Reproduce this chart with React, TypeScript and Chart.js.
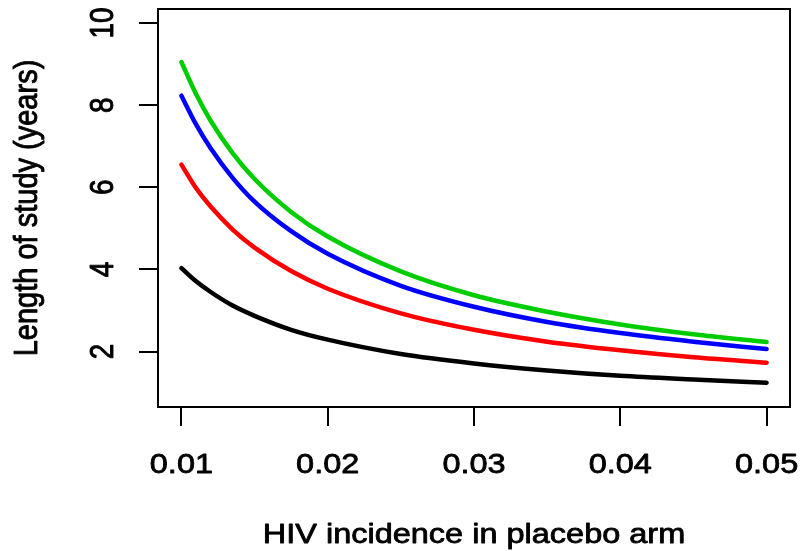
import React, { useEffect, useRef } from "react";
import { Chart, registerables } from "chart.js";

Chart.register(...registerables);

// HIV incidence in placebo arm (x values where the curves were read)
const incidence = [0.01, 0.011, 0.012, 0.0135, 0.015, 0.0175, 0.02, 0.025, 0.03, 0.035, 0.04, 0.045, 0.05];

// Length of study (years)
const blackSeries = [4.03, 3.71, 3.45, 3.12, 2.87, 2.53, 2.29, 1.94, 1.71, 1.54, 1.41, 1.32, 1.24];
const redSeries = [6.55, 5.98, 5.53, 4.97, 4.53, 3.96, 3.53, 2.93, 2.53, 2.24, 2.03, 1.86, 1.73];
const blueSeries = [8.23, 7.53, 6.95, 6.23, 5.65, 4.93, 4.38, 3.6, 3.09, 2.72, 2.45, 2.24, 2.06];
const greenSeries = [9.05, 8.27, 7.62, 6.83, 6.2, 5.4, 4.8, 3.95, 3.37, 2.97, 2.66, 2.42, 2.23];

const xTicks = [0.01, 0.02, 0.03, 0.04, 0.05];
const xTickLabels = ["0.01", "0.02", "0.03", "0.04", "0.05"];
const yTicks = [2, 4, 6, 8, 10];
const yTickLabels = ["2", "4", "6", "8", "10"];

const xTitle = "HIV incidence in placebo arm";
const yTitle = "Length of study (years)";

const FONT = '"Liberation Sans", Arial, Helvetica, sans-serif';
const SX = 1.16;

function heavyText(ctx: CanvasRenderingContext2D, text: string) {
  ctx.fillText(text, 0, 0);
  ctx.strokeText(text, 0, 0);
}

const rAxesPlugin = {
  id: "rAxes",
  afterDraw(chart: any) {
    const { ctx, chartArea, scales } = chart;
    const xs = scales.x;
    const ys = scales.y;
    ctx.save();
    ctx.strokeStyle = "#000";
    ctx.lineWidth = 2;
    ctx.lineCap = "butt";
    // box
    ctx.strokeRect(chartArea.left, chartArea.top, chartArea.right - chartArea.left, chartArea.bottom - chartArea.top);
    // x ticks
    ctx.beginPath();
    xTicks.forEach((v) => {
      const px = Math.round(xs.getPixelForValue(v));
      ctx.moveTo(px, chartArea.bottom);
      ctx.lineTo(px, chartArea.bottom + 19);
    });
    // y ticks
    yTicks.forEach((v) => {
      const py = Math.round(ys.getPixelForValue(v));
      ctx.moveTo(chartArea.left, py);
      ctx.lineTo(chartArea.left - 19, py);
    });
    ctx.stroke();

    ctx.fillStyle = "#000";
    ctx.strokeStyle = "#000";
    ctx.lineWidth = 0.8;
    ctx.lineJoin = "round";
    ctx.font = `28px ${FONT}`;
    ctx.textAlign = "center";
    ctx.textBaseline = "alphabetic";
    // x tick labels
    xTicks.forEach((v, i) => {
      const px = xs.getPixelForValue(v);
      ctx.save();
      ctx.translate(px, 473);
      ctx.scale(SX, 1);
      heavyText(ctx, xTickLabels[i]);
      ctx.restore();
    });
    // y tick labels (rotated)
    yTicks.forEach((v, i) => {
      const py = ys.getPixelForValue(v);
      ctx.save();
      ctx.translate(113, py);
      ctx.scale(SX, 1);
      ctx.rotate(-Math.PI / 2);
      heavyText(ctx, yTickLabels[i]);
      ctx.restore();
    });
    // x title
    ctx.save();
    ctx.translate((chartArea.left + chartArea.right) / 2, 543);
    ctx.scale(SX, 1);
    heavyText(ctx, xTitle);
    ctx.restore();
    // y title
    ctx.save();
    ctx.translate(37, (chartArea.top + chartArea.bottom) / 2);
    ctx.scale(SX, 1);
    ctx.rotate(-Math.PI / 2);
    ctx.font = `29px ${FONT}`;
    heavyText(ctx, yTitle);
    ctx.restore();
    ctx.restore();
  },
};

const makeSeries = (vals: number[]) => incidence.map((x, i) => ({ x, y: vals[i] }));

export default function App() {
  const canvasRef = useRef<HTMLCanvasElement | null>(null);

  useEffect(() => {
    const canvas = canvasRef.current;
    if (!canvas) return;
    const common = {
      borderWidth: 4.5,
      pointRadius: 0,
      fill: false,
      cubicInterpolationMode: "monotone" as const,
      borderCapStyle: "round" as const,
      borderJoinStyle: "round" as const,
    };
    const chart = new Chart(canvas, {
      type: "line",
      data: {
        datasets: [
          { ...common, data: makeSeries(blackSeries), borderColor: "#000000" },
          { ...common, data: makeSeries(redSeries), borderColor: "#FF0000" },
          { ...common, data: makeSeries(blueSeries), borderColor: "#0000FF" },
          { ...common, data: makeSeries(greenSeries), borderColor: "#00CD00" },
        ],
      },
      options: {
        animation: false,
        responsive: false,
        devicePixelRatio: 1,
        layout: { padding: { left: 158, right: 20, top: 9, bottom: 144 } },
        plugins: { legend: { display: false }, tooltip: { enabled: false } },
        scales: {
          x: { type: "linear", min: 0.0084, max: 0.0516, display: false },
          y: { type: "linear", min: 0.65, max: 10.34, display: false },
        },
        events: [],
      },
      plugins: [rAxesPlugin],
    });
    return () => chart.destroy();
  }, []);

  return (
    <div style={{ position: "absolute", left: 0, top: 0, width: 810, height: 551, background: "#fff" }}>
      <canvas ref={canvasRef} width={810} height={551} style={{ display: "block" }} />
    </div>
  );
}
